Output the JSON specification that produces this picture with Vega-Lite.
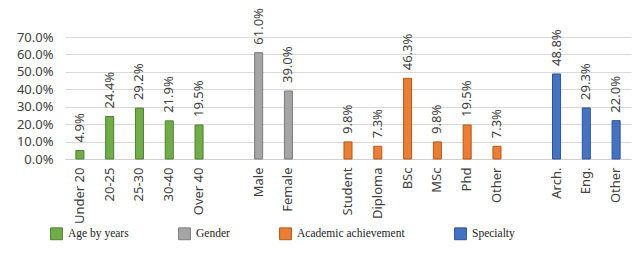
{
  "$schema": "https://vega.github.io/schema/vega-lite/v6.json",
  "width": 566,
  "height": 122,
  "autosize": {"type": "none"},
  "padding": {"left": 65, "top": 37, "right": 6, "bottom": 95},
  "background": "white",
  "config": {
    "view": {"stroke": null},
    "font": "Noto Sans"
  },
  "data": {
    "values": [
      {"cat": "Under 20", "group": "Age by years", "value": 0.049},
      {"cat": "20-25", "group": "Age by years", "value": 0.244},
      {"cat": "25-30", "group": "Age by years", "value": 0.292},
      {"cat": "30-40", "group": "Age by years", "value": 0.219},
      {"cat": "Over 40", "group": "Age by years", "value": 0.195},
      {"cat": "Male", "group": "Gender", "value": 0.61},
      {"cat": "Female", "group": "Gender", "value": 0.39},
      {"cat": "Student", "group": "Academic achievement", "value": 0.098},
      {"cat": "Diploma", "group": "Academic achievement", "value": 0.073},
      {"cat": "BSc", "group": "Academic achievement", "value": 0.463},
      {"cat": "MSc", "group": "Academic achievement", "value": 0.098},
      {"cat": "Phd", "group": "Academic achievement", "value": 0.195},
      {"cat": "Other1", "group": "Academic achievement", "value": 0.073},
      {"cat": "Arch.", "group": "Specialty", "value": 0.488},
      {"cat": "Eng.", "group": "Specialty", "value": 0.293},
      {"cat": "Other2", "group": "Specialty", "value": 0.22}
    ]
  },
  "encoding": {
    "x": {
      "field": "cat",
      "type": "nominal",
      "sort": null,
      "scale": {
        "domain": ["Under 20", "20-25", "25-30", "30-40", "Over 40", "gap1", "Male", "Female", "gap2", "Student", "Diploma", "BSc", "MSc", "Phd", "Other1", "gap3", "Arch.", "Eng.", "Other2"],
        "paddingInner": 0.73,
        "paddingOuter": 0.365
      },
      "axis": {
        "title": null,
        "labelAngle": -90,
        "labelAlign": "right",
        "labelBaseline": "middle",
        "labelPadding": 8,
        "labelFontSize": 13,
        "labelColor": "#404040",
        "ticks": false,
        "domainColor": "#d0d0d0",
        "labelExpr": "slice(datum.value,0,3) == 'gap' ? '' : (slice(datum.value,0,5) == 'Other' ? 'Other' : datum.value)"
      }
    },
    "y": {
      "field": "value",
      "type": "quantitative",
      "scale": {"domain": [0, 0.7]},
      "axis": {
        "title": null,
        "format": ".1%",
        "values": [0, 0.1, 0.2, 0.3, 0.4, 0.5, 0.6, 0.7],
        "domain": false,
        "ticks": false,
        "gridColor": "#d9d9d9",
        "labelFontSize": 13,
        "labelColor": "#404040",
        "labelPadding": 12
      }
    }
  },
  "layer": [
    {
      "mark": {"type": "bar", "strokeWidth": 1},
      "encoding": {
        "fill": {
          "field": "group",
          "type": "nominal",
          "scale": {
            "domain": ["Age by years", "Gender", "Academic achievement", "Specialty"],
            "range": ["#70AD47", "#A5A5A5", "#ED7D31", "#4472C4"]
          },
          "legend": {
            "title": null,
            "orient": "none",
            "direction": "horizontal",
            "legendX": -15,
            "legendY": 190,
            "symbolType": "square",
            "symbolSize": 140,
            "symbolOpacity": 1,
            "labelFont": "Liberation Serif",
            "labelFontSize": 11.5,
            "labelColor": "#222222",
            "labelOffset": 5,
            "columnPadding": 47,
            "encode": {
              "symbols": {
                "update": {
                  "stroke": {"value": "#111111"},
                  "strokeWidth": {"value": 1}
                }
              }
            }
          }
        },
        "stroke": {
          "field": "group",
          "type": "nominal",
          "scale": {
            "domain": ["Age by years", "Gender", "Academic achievement", "Specialty"],
            "range": ["#507E32", "#7B7B7B", "#AE5A21", "#2F528F"]
          },
          "legend": null
        }
      }
    },
    {
      "mark": {"type": "text", "angle": -90, "align": "left", "baseline": "middle", "dx": 8, "fontSize": 13, "color": "#404040"},
      "encoding": {
        "text": {"field": "value", "type": "quantitative", "format": ".1%"}
      }
    }
  ]
}
